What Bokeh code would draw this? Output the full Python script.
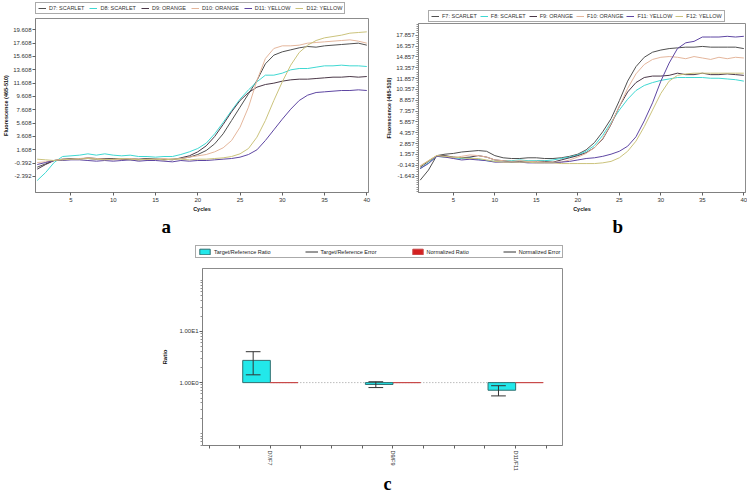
import math
from bokeh.plotting import figure
from bokeh.models import (FixedTicker, NumeralTickFormatter, Legend, LegendItem,
                          Label, Range1d, Spacer)
from bokeh.layouts import column, row
from bokeh.embed import file_html
from bokeh.resources import INLINE

# ---------------- data ----------------
cycles = list(range(1, 41))

a_names = ["D7: SCARLET", "D8: SCARLET", "D9: ORANGE", "D10: ORANGE", "D11: YELLOW", "D12: YELLOW"]
a_D7 = [-1.0, -0.5, 0.0, 0.1, 0.2, 0.3, 0.3, 0.2, 0.3, 0.2,
        0.2, 0.1, 0.1, 0.2, 0.2, 0.1, 0.2, 0.3, 0.5, 0.9,
        1.5, 2.5, 4.0, 6.0, 8.0, 10.0, 12.0, 14.5, 15.8, 16.3,
        16.6, 16.9, 17.1, 17.0, 17.2, 17.3, 17.4, 17.5, 17.6, 17.3]
a_D8 = [-3.0, -1.8, -0.3, 0.6, 0.7, 0.8, 1.0, 0.8, 1.0, 0.8,
        0.7, 0.8, 0.6, 0.6, 0.5, 0.6, 0.6, 0.9, 1.3, 1.8,
        2.6, 4.0, 5.7, 7.5, 9.2, 10.6, 11.8, 12.8, 12.8, 13.1,
        13.6, 13.8, 13.8, 14.0, 14.2, 14.2, 14.3, 14.2, 14.2, 14.1]
a_D9 = [-1.3, -0.6, 0.0, 0.2, 0.3, 0.2, 0.4, 0.3, 0.2, 0.3,
        0.2, 0.3, 0.2, 0.3, 0.2, 0.2, 0.1, 0.4, 0.7, 1.3,
        2.2, 3.6, 5.4, 7.3, 9.0, 10.2, 11.0, 11.4, 11.6, 11.9,
        12.1, 12.2, 12.2, 12.3, 12.4, 12.5, 12.5, 12.6, 12.5, 12.6]
a_D10 = [-0.3, -0.2, 0.0, 0.2, 0.2, 0.3, 0.4, 0.3, 0.2, 0.1,
         0.2, 0.3, 0.2, 0.1, 0.2, 0.3, 0.2, 0.3, 0.5, 0.7,
         0.9, 1.3, 1.9, 3.0, 5.0, 8.0, 12.0, 15.3, 16.8, 17.2,
         17.2, 17.3, 17.6, 17.7, 17.8, 17.9, 18.0, 18.1, 17.9, 17.6]
a_D11 = [-0.6, -0.3, 0.0, 0.0, 0.1, 0.1, 0.0, -0.1, 0.0, -0.1,
         0.0, 0.1, -0.1, 0.0, 0.0, -0.1, -0.2, 0.0, -0.1, 0.0,
         0.0, 0.1, 0.2, 0.3, 0.5, 0.9, 1.6, 3.0, 4.6, 6.2,
         7.7, 9.0, 9.8, 10.2, 10.3, 10.4, 10.5, 10.5, 10.6, 10.5]
a_D12 = [0.2, 0.1, 0.0, 0.1, 0.2, 0.2, 0.3, 0.2, 0.1, 0.2,
         0.3, 0.2, 0.1, 0.2, 0.2, 0.1, 0.2, 0.2, 0.1, 0.2,
         0.2, 0.3, 0.4, 0.6, 1.0, 1.8, 3.5, 6.0, 9.0, 11.8,
         14.3, 16.2, 17.3, 18.0, 18.4, 18.6, 18.8, 19.1, 19.2, 19.3]

b_names = ["F7: SCARLET", "F8: SCARLET", "F9: ORANGE", "F10: ORANGE", "F11: YELLOW", "F12: YELLOW"]
b_F7 = [-2.2, -0.8, 1.2, 1.4, 1.5, 1.7, 1.8, 1.9, 1.8, 1.2,
        0.9, 0.8, 0.8, 0.9, 0.9, 0.8, 0.8, 0.9, 1.1, 1.4,
        2.0, 3.0, 4.5, 6.3, 8.8, 11.5, 13.5, 14.8, 15.5, 15.8,
        16.0, 16.1, 16.2, 16.2, 16.3, 16.2, 16.2, 16.2, 16.2, 16.0]
b_F8 = [-0.6, 0.2, 1.1, 1.0, 0.9, 0.8, 0.9, 0.7, 0.5, 0.4,
        0.5, 0.5, 0.6, 0.5, 0.5, 0.5, 0.6, 0.8, 1.0, 1.3,
        1.8, 2.6, 4.0, 5.8, 7.5, 9.0, 10.2, 10.9, 11.3, 11.6,
        11.8, 12.0, 12.0, 12.0, 12.0, 11.9, 11.9, 11.8, 11.7, 11.5]
b_F9 = [-0.4, 0.4, 1.2, 1.2, 1.0, 0.9, 1.0, 1.2, 1.0, 0.6,
        0.5, 0.3, 0.4, 0.3, 0.4, 0.4, 0.3, 0.6, 0.9, 1.2,
        1.6, 2.3, 3.5, 5.5, 8.0, 10.0, 11.3, 12.0, 12.2, 12.2,
        12.3, 12.6, 12.4, 12.4, 12.6, 12.4, 12.4, 12.5, 12.4, 12.3]
b_F10 = [-0.2, 0.5, 1.2, 1.0, 0.9, 1.1, 1.3, 1.2, 1.0, 0.6,
         0.5, 0.4, 0.5, 0.4, 0.4, 0.3, 0.3, 0.3, 0.6, 1.0,
         1.5, 2.3, 3.6, 5.6, 8.0, 10.5, 12.5, 13.8, 14.5, 14.8,
         14.9, 14.8, 14.6, 14.9, 14.7, 14.5, 14.8, 14.6, 14.8, 14.7]
b_F11 = [-0.6, 0.1, 1.1, 1.0, 0.8, 0.6, 0.7, 0.6, 0.5, 0.3,
         0.3, 0.3, 0.3, 0.2, 0.2, 0.2, 0.2, 0.3, 0.4, 0.6,
         0.8, 0.9, 1.1, 1.4, 1.8, 2.5, 3.8, 6.0, 8.5, 11.5,
         14.0, 16.0, 16.8, 17.0, 17.6, 17.6, 17.6, 17.7, 17.6, 17.7]
b_F12 = [-0.3, 0.5, 1.2, 1.1, 1.0, 0.9, 0.8, 0.8, 0.6, 0.4,
         0.3, 0.3, 0.3, 0.3, 0.2, 0.2, 0.2, 0.1, 0.1, 0.1,
         0.1, 0.1, 0.2, 0.4, 0.9, 1.8, 3.2, 5.2, 7.5, 9.8,
         11.5, 12.3, 12.5, 12.6, 12.6, 12.6, 12.6, 12.6, 12.6, 12.6]

x_ticks_ab = [5, 10, 15, 20, 25, 30, 35, 40]
a_yticks = [-2.392 + 2 * k for k in range(12)]
b_yticks = [-1.643 + 1.5 * k for k in range(14)]

c_pairs = ["D7/F7", "D9/F9", "D11/F11"]
c_ratio = [2.72, 0.92, 0.71]
c_ratio_err = [1.30, 0.12, 0.16]
c_norm = [1.0, 1.0, 1.0]
c_yticks = [1, 10]
c_ylabels = {1: "1.00E0", 10: "1.00E1"}
c_legend = ["Target/Reference Ratio", "Target/Reference Error", "Normalized Ratio", "Normalized Error"]

line_colors = ["#505050", "#3fd8d2", "#4b3848", "#e4b69c", "#5e46a2", "#cbc37c"]
CYAN, CYAN_EDGE, RED, RED_EDGE, ERR = "#22e8ea", "#2f6f70", "#d42020", "#c84848", "#333333"

FONT = "Liberation Sans"
TICK = "6px"
AXL = "5.5px"
LEGF = "5.5px"
NAN = float("nan")


def blank_fig(width, height):
    f = figure(width=width, height=height, x_range=Range1d(0, 1), y_range=Range1d(0, 1),
               output_backend="svg", toolbar_location=None, frame_align=False,
               x_axis_location=None, y_axis_location=None,
               min_border_left=0, min_border_right=0, min_border_top=0, min_border_bottom=0)
    f.grid.visible = False
    f.outline_line_color = None
    f.background_fill_color = "white"
    f.border_fill_color = "white"
    return f


def legend_style(**kw):
    base = dict(orientation="horizontal",
                label_text_font=FONT, label_text_font_size=LEGF, label_text_color="#333333",
                label_standoff=3, padding=2, margin=0,
                border_line_color="#555555", border_line_width=1,
                background_fill_color="white", background_fill_alpha=1)
    base.update(kw)
    return base


def line_legend_fig(width, height, names, loc, spacing):
    f = blank_fig(width, height)
    items = []
    for name, col in zip(names, line_colors):
        r = f.line(x=[NAN], y=[NAN], line_color=col, line_width=1)
        items.append(LegendItem(label=name, renderers=[r]))
    f.add_layout(Legend(items=items, location=loc,
                        **legend_style(glyph_width=8, glyph_height=6, label_height=6,
                                       spacing=spacing)))
    return f


def letter_fig(width, height, text, x, y, size):
    f = blank_fig(width, height)
    f.add_layout(Label(x=x, y=y, x_units="screen", y_units="screen", text=text,
                       text_font="Liberation Serif", text_font_size=size,
                       text_font_style="bold", text_color="black",
                       text_baseline="alphabetic"))
    return f


def base_style(p):
    p.grid.visible = False
    p.outline_line_color = "#8c8c8c"
    p.background_fill_color = "white"
    p.border_fill_color = "white"
    for ax in p.axis:
        ax.axis_line_color = "#808080"
        ax.major_tick_line_color = "#606060"
        ax.minor_tick_line_color = None
        ax.major_tick_in = 0
        ax.major_tick_out = 3
        ax.major_label_standoff = 1
        ax.axis_label_standoff = 1
        ax.major_label_text_font = FONT
        ax.major_label_text_font_size = TICK
        ax.major_label_text_color = "#333333"
        ax.axis_label_text_font = FONT
        ax.axis_label_text_font_size = AXL
        ax.axis_label_text_font_style = "bold"
        ax.axis_label_text_color = "#111111"


def curve_panel(series, yticks, yrange, width, height, mbl, mbr, minor=None):
    p = figure(width=width, height=height, x_range=Range1d(0.8, 40.2), y_range=Range1d(*yrange),
               output_backend="svg", toolbar_location=None, frame_align=False,
               min_border_left=mbl, min_border_right=mbr, min_border_top=0,
               min_border_bottom=22)
    base_style(p)
    for ys, col in zip(series, line_colors):
        p.line(cycles, ys, line_color=col, line_width=1)
    p.xaxis.ticker = FixedTicker(ticks=x_ticks_ab)
    p.xaxis.axis_label = "Cycles"
    p.xaxis.major_label_standoff = 2
    p.yaxis.ticker = FixedTicker(ticks=yticks, minor_ticks=minor or [])
    p.yaxis.formatter = NumeralTickFormatter(format="0.000")
    p.yaxis.axis_label = "Fluorescence (465-510)"
    if minor:
        p.yaxis.minor_tick_line_color = "#909090"
        p.yaxis.minor_tick_out = 2
        p.yaxis.minor_tick_in = 0
    return p


b_minor = [b_yticks[0] + 0.3 * k for k in range(-8, 75)]

# ---- panel a (column height 240)
WA, WB = 372, 375
leg_a = line_legend_fig(WA, 18, a_names, (35, 4), 5)
pa = curve_panel([a_D7, a_D8, a_D9, a_D10, a_D11, a_D12], a_yticks, (-4.8, 21.3),
                 WA, 196, 28, 4)
let_a = letter_fig(WA, 26, "a", 161, 14, "19px")

# ---- panel b
leg_b = line_legend_fig(WB, 23, b_names, (56, 1), 3)
pb = curve_panel([b_F7, b_F8, b_F9, b_F10, b_F11, b_F12], b_yticks, (-3.9, 19.47),
                 WB, 191, 46, 2, minor=b_minor)
let_b = letter_fig(WB, 26, "b", 240, 14, "19px")

# ---------------- panel c ----------------
WC = 415
xs = [i + 1 for i in range(len(c_pairs))]
pc = figure(width=WC, height=205, x_range=Range1d(0.447, 3.382), y_range=Range1d(0.059, 170),
            y_axis_type="log", output_backend="svg", toolbar_location=None, frame_align=False,
            min_border_left=47, min_border_right=8, min_border_top=0,
            min_border_bottom=28)
base_style(pc)

pc.segment(x0=[xs[0]], y0=[c_norm[0]], x1=[xs[-1]], y1=[c_norm[-1]],
           line_color="#9a9a9a", line_dash="1 2", line_width=1)

bar_w = 0.225
pc.quad(left=[x - bar_w for x in xs], right=xs, bottom=c_norm, top=c_ratio,
        fill_color=CYAN, line_color=CYAN_EDGE, line_width=1)
pc.quad(left=xs, right=[x + bar_w for x in xs], bottom=c_norm, top=c_norm,
        fill_color=RED, line_color=RED_EDGE, line_width=1)

ex = [x - 0.14 for x in xs]
lo = [r - e for r, e in zip(c_ratio, c_ratio_err)]
hi = [r + e for r, e in zip(c_ratio, c_ratio_err)]
pc.segment(x0=ex, y0=lo, x1=ex, y1=hi, line_color=ERR, line_width=1)
cap = 0.06
pc.segment(x0=[x - cap for x in ex], y0=lo, x1=[x + cap for x in ex], y1=lo,
           line_color=ERR, line_width=1)
pc.segment(x0=[x - cap for x in ex], y0=hi, x1=[x + cap for x in ex], y1=hi,
           line_color=ERR, line_width=1)

tick_pos = [0.5 + 0.25 * k for k in range(12)]
pc.xaxis.ticker = FixedTicker(ticks=tick_pos)
pc.xaxis.major_label_overrides = {t: (c_pairs[int(t) - 1] if float(t).is_integer() and int(t) in xs else "")
                                  for t in tick_pos}
pc.xaxis.major_label_orientation = -math.pi / 2
pc.xaxis.major_label_text_font_size = "5.5px"
pc.xaxis.major_tick_out = 3
pc.xaxis.major_label_standoff = 2

minor_c = [k * 10 ** e for e in range(-2, 3) for k in range(1, 10) if k * 10 ** e not in c_yticks]
pc.yaxis.ticker = FixedTicker(ticks=c_yticks, minor_ticks=minor_c)
pc.yaxis.major_label_overrides = c_ylabels
pc.yaxis.minor_tick_line_color = "#909090"
pc.yaxis.minor_tick_out = 2
pc.yaxis.minor_tick_in = 0
pc.yaxis.axis_label = "Ratio"
pc.yaxis.axis_label_text_font_size = "6px"
pc.yaxis.axis_label_standoff = 8

# legend strip for panel c
leg_c = blank_fig(WC, 28)
g1 = leg_c.quad(left=[NAN], right=[NAN], top=[NAN], bottom=[NAN], fill_color=CYAN, line_color=CYAN_EDGE)
g2 = leg_c.segment(x0=[NAN], y0=[NAN], x1=[NAN], y1=[NAN], line_color=ERR, line_width=1)
g3 = leg_c.quad(left=[NAN], right=[NAN], top=[NAN], bottom=[NAN], fill_color=RED, line_color=RED_EDGE)
g4 = leg_c.segment(x0=[NAN], y0=[NAN], x1=[NAN], y1=[NAN], line_color=ERR, line_width=1)
leg_c.add_layout(Legend(items=[LegendItem(label=c_legend[0], renderers=[g1]),
                               LegendItem(label=c_legend[1], renderers=[g2]),
                               LegendItem(label=c_legend[2], renderers=[g3]),
                               LegendItem(label=c_legend[3], renderers=[g4])],
                        location=(40, 10),
                        **legend_style(glyph_width=13, glyph_height=7, label_height=7,
                                       spacing=34, label_text_color="#222222")))
let_c = letter_fig(WC, 21, "c", 228, 11, "18px")

layout = column(
    row(column(leg_a, pa, let_a), column(leg_b, pb, let_b)),
    row(Spacer(width=155, height=254), column(leg_c, pc, let_c)),
)

open("out.html", "w").write(file_html(layout, INLINE))
